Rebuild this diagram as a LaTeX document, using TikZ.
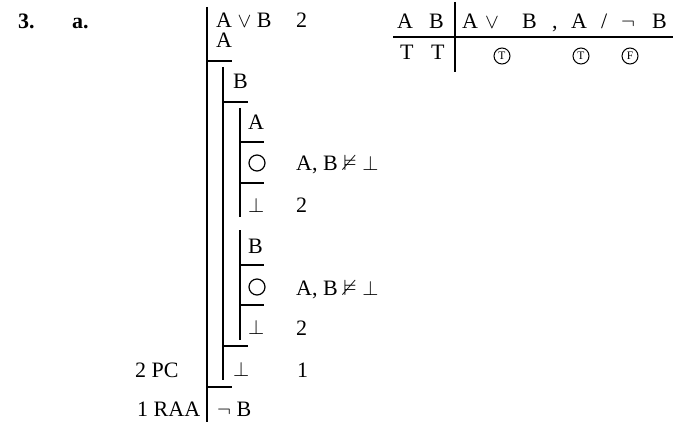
\documentclass[tikz,border=0pt]{standalone}
\usepackage{amssymb}
\usepackage{fontspec}
\setmainfont{Liberation Serif}
\newcommand\dfont{\fontsize{22}{26}\selectfont}
\newcommand\cfont{\fontsize{11.5}{13}\selectfont}
\begin{document}
\begin{tikzpicture}[x=1pt,y=-1pt,
  t/.style={anchor=base west,inner sep=0pt,font=\dfont},
  tb/.style={anchor=base west,inner sep=0pt,font=\dfont\bfseries},
  pl/.style={line width=1.7pt},
  hl/.style={line width=1.3pt},
  tl/.style={line width=2.6pt},
  empty/.style={circle,draw,line width=1.2pt,minimum size=16pt,inner sep=0pt},
  cv/.style={circle,draw,line width=1pt,minimum size=16pt,inner sep=0pt,font=\cfont}]
\useasboundingbox (0,0) rectangle (677,422);
% heading
\node[tb] (n3) at (18,29) {3.};
\node[tb] (na) at (72,29) {a.};
% proof structure
\draw[pl] (207,7) -- (207,422);
\draw[hl] (207,61) -- (232,61);
\draw[pl] (223,67) -- (223,380);
\draw[hl] (223,102) -- (248,102);
\draw[pl] (240,108) -- (240,217);
\draw[hl] (240,142) -- (264,142);
\draw[hl] (240,183) -- (264,183);
\draw[pl] (240,230) -- (240,340);
\draw[hl] (240,265) -- (264,265);
\draw[hl] (240,305) -- (264,305);
\draw[hl] (223,346) -- (248,346);
\draw[hl] (207,387) -- (232,387);
% proof texts
\node[t] (p1) at (216,28) {A $\vee$ B};
\node[t] (p1r) at (296,28) {2};
\node[t] (p2) at (216,48) {A};
\node[t] (p3) at (233,89) {B};
\node[t] (p4) at (248,130) {A};
\node[empty] (c1) at (257,163) {};
\node[t] (p5r) at (296,171) {A, B $\nvDash \bot$};
\node[t] (p6) at (248,212) {$\bot$};
\node[t] (p6r) at (296,212) {2};
\node[t] (p7) at (248,253) {B};
\node[empty] (c2) at (257,287) {};
\node[t] (p8r) at (296,295) {A, B $\nvDash \bot$};
\node[t] (p9) at (248,334) {$\bot$};
\node[t] (p9r) at (296,335) {2};
\node[t] (p10l) at (135,377) {2 PC};
\node[t] (p10) at (233,376) {$\bot$};
\node[t] (p10r) at (297,377) {1};
\node[t] (p11l) at (137,416) {1 RAA};
\node[t] (p11) at (217,416) {$\neg$ B};
% table
\draw[tl] (455,2) -- (455,72);
\draw[tl] (393,37) -- (673,37);
\node[t] (hA) at (397,29) {A};
\node[t] (hB) at (429,29) {B};
\node[t] (h1) at (462,29) {A};
\node[t] (h2) at (485,29) {$\vee$};
\node[t] (h3) at (522,29) {B};
\node[t] (h4) at (552,29) {,};
\node[t] (h5) at (571,29) {A};
\node[t] (h6) at (601,29) {/};
\node[t] (h7) at (621,29) {$\neg$};
\node[t] (h8) at (652,29) {B};
\node[t] (rA) at (400,60) {T};
\node[t] (rB) at (431,60) {T};
\node[cv] (v1) at (502,56) {T};
\node[cv] (v2) at (581,56) {T};
\node[cv] (v3) at (630,56) {F};
\end{tikzpicture}
\end{document}
